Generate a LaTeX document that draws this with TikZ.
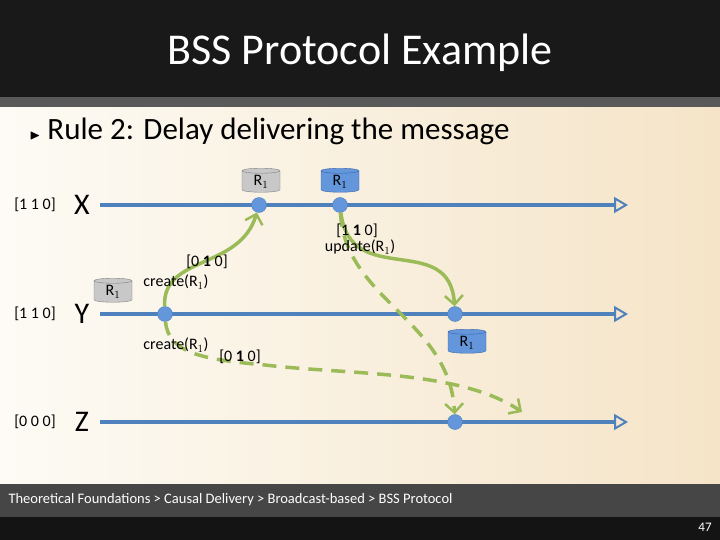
\documentclass[tikz,border=0pt]{standalone}
\usepackage{amssymb}
\usepackage{fontspec}
\setmainfont{Carlito}
\usetikzlibrary{shapes.geometric,arrows.meta}
\begin{document}
\begin{tikzpicture}[x=1pt,y=-1pt,
  tl/.style={line width=4.5pt,draw={rgb,255:red,79;green,129;blue,189},-{Triangle[length=14pt,width=16pt,open,line width=2pt]}},
  dot/.style={circle,fill={rgb,255:red,100;green,150;blue,220},draw={rgb,255:red,79;green,129;blue,189},minimum size=15pt,inner sep=0pt},
  cylg/.style={cylinder,shape border rotate=90,aspect=0.3,draw=gray,fill={rgb,255:red,200;green,200;blue,200},minimum width=38pt,minimum height=24pt,inner sep=1pt,font=\fontsize{16}{16}\selectfont},
  cylb/.style={cylg,draw={rgb,255:red,60;green,100;blue,170},fill={rgb,255:red,100;green,150;blue,220}},
  msg/.style={line width=3.5pt,draw={rgb,255:red,155;green,187;blue,89},-{Straight Barb[length=9pt,width=18pt,line width=2.5pt]}},
  dmsg/.style={msg,dash pattern=on 14pt off 9pt},
  lab/.style={font=\fontsize{16}{16}\selectfont,inner sep=1pt},
  vec/.style={font=\fontsize{16}{16}\selectfont,inner sep=1pt}]
\useasboundingbox (0,0) rectangle (720,540);
\shade[left color={rgb,255:red,253;green,251;blue,245},right color={rgb,255:red,245;green,228;blue,200}] (0,100) rectangle (720,490);
\fill[black!90] (0,0) rectangle (720,97);
\fill[gray!70!black] (0,97) rectangle (720,107);
\fill[gray!55!black] (0,484) rectangle (720,517);
\fill[black!92] (0,517) rectangle (720,540);
\node[white,font=\fontsize{44}{44}\selectfont] (title) at (360,53) {BSS Protocol Example};
\node[anchor=west,font=\fontsize{31}{31}\selectfont] (rule) at (26,131) {{\fontsize{14}{14}\selectfont$\blacktriangleright$}\ Rule 2: Delay delivering the message};
\node[anchor=west,white,font=\fontsize{14.5}{14.5}\selectfont] (foot) at (5,500) {Theoretical Foundations > Causal Delivery > Broadcast-based > BSS Protocol};
\node[white,font=\fontsize{13}{13}\selectfont] (pg) at (705,527) {47};
% process labels
\node[vec] (vx) at (35,205) {[1 1 0]};
\node[vec] (vy) at (35,314) {[1 1 0]};
\node[vec] (vz) at (35,422) {[0 0 0]};
\node[font=\fontsize{30}{30}\selectfont] (X) at (82,205) {X};
\node[font=\fontsize{30}{30}\selectfont] (Y) at (82,314) {Y};
\node[font=\fontsize{30}{30}\selectfont] (Z) at (82,422) {Z};
\coordinate (xs) at (100,205); \coordinate (xe) at (628,205);
\coordinate (ys) at (100,314); \coordinate (ye) at (628,314);
\coordinate (zs) at (100,422); \coordinate (ze) at (628,422);
\draw[tl] (xs) -- (xe);
\draw[tl] (ys) -- (ye);
\draw[tl] (zs) -- (ze);
\node[dot] (x1) at (259,205) {};
\node[dot] (x2) at (340,205) {};
\node[dot] (y1) at (165,314) {};
\node[dot] (y2) at (455,314) {};
\node[dot] (z1) at (455,422) {};
\node[cylg] (c1) at (261,182) {R$_1$};
\node[cylb] (c2) at (340,182) {R$_1$};
\node[cylg] (c3) at (113,292) {R$_1$};
\node[cylb] (c4) at (467,343) {R$_1$};
\coordinate (dend) at (522,412);
\draw[dmsg] (y1) .. controls (168,355) and (210,360) .. (265,365) .. controls (350,375) and (460,370) .. (dend);
\draw[dmsg] (x2) .. controls (345,300) and (450,320) .. (z1);
\draw[msg] (y1) .. controls (162,255) and (240,270) .. (x1);
\draw[msg] (x2) .. controls (350,290) and (450,230) .. (y2);
\node[lab] (l1) at (207,262) {[0 \textbf{1} 0]};
\node[lab] (l2) at (176,282) {create(R$_1$)};
\node[lab] (l3) at (176,345) {create(R$_1$)};
\node[lab] (l4) at (240,357) {[0 \textbf{1} 0]};
\node[lab] (l5) at (357,231) {[1 \textbf{1} 0]};
\node[lab] (l6) at (360,247) {update(R$_1$)};
\end{tikzpicture}
\end{document}
